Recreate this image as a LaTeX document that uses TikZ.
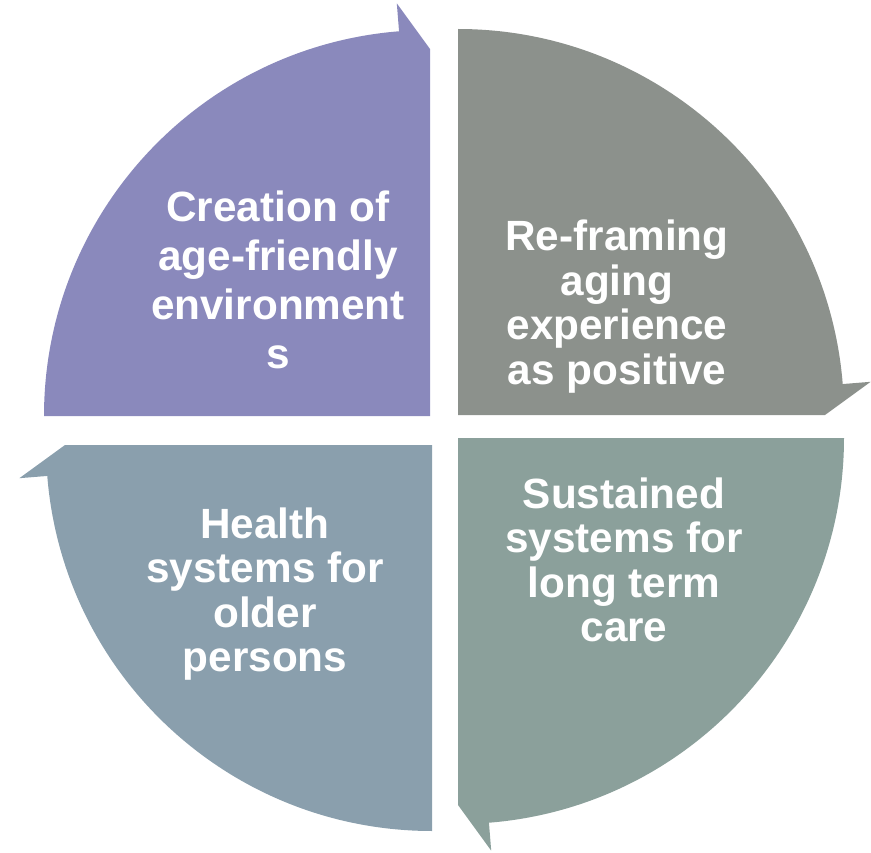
\documentclass[tikz,border=0pt]{standalone}
\usepackage{fontspec}
\setmainfont{Liberation Sans}
\usetikzlibrary{calc}
\definecolor{cPurple}{HTML}{8A89BC}
\definecolor{cGrey}{HTML}{8C918C}
\definecolor{cTeal}{HTML}{8BA09B}
\definecolor{cSlate}{HTML}{8A9FAD}
\tikzset{
  lbl/.style={text=white, align=center, inner sep=0pt, font=\bfseries\fontsize{42.3}{44.5}\selectfont},
}
\newcommand{\Rr}{386}
\newcommand{\Ro}{414}
\newcommand{\Rt}{367}
\newcommand{\dd}{4.6}
\begin{document}
\begin{tikzpicture}[x=1pt,y=1pt]
\useasboundingbox (0,0) rectangle (871,-853);
% top-left
\coordinate (c1) at (430,-416);
\fill[cPurple] (c1) -- ++(180:\Rr) arc[start angle=180,end angle=90+\dd,radius=\Rr]
  -- ($(c1)+(90+\dd:\Ro)$) -- ($(c1)+(90:\Rt)$) -- cycle;
% top-right
\coordinate (c2) at (458,-415);
\fill[cGrey] (c2) -- ++(90:\Rr) arc[start angle=90,end angle=\dd,radius=\Rr]
  -- ($(c2)+(\dd:\Ro)$) -- ($(c2)+(0:\Rt)$) -- cycle;
% bottom-right
\coordinate (c3) at (458,-438);
\fill[cTeal] (c3) -- ++(0:\Rr) arc[start angle=0,end angle=-90+\dd,radius=\Rr]
  -- ($(c3)+(-90+\dd:\Ro)$) -- ($(c3)+(-90:\Rt)$) -- cycle;
% bottom-left
\coordinate (c4) at (432,-445);
\fill[cSlate] (c4) -- ++(-90:\Rr) arc[start angle=-90,end angle=-180+\dd,radius=\Rr]
  -- ($(c4)+(-180+\dd:\Ro)$) -- ($(c4)+(-180:\Rt)$) -- cycle;
\node[lbl, font=\bfseries\fontsize{42.3}{49}\selectfont] (t1) at (278,-279.5) {Creation of\\age-friendly\\environment\\s};
\node[lbl] (t2) at (617,-306.5) {Re-framing\\aging\\experience\\as positive};
\node[lbl] (t3) at (624,-560) {Sustained\\systems for\\long term\\care};
\node[lbl] (t4) at (265,-594) {Health\\systems for\\older\\persons};
\end{tikzpicture}
\end{document}
